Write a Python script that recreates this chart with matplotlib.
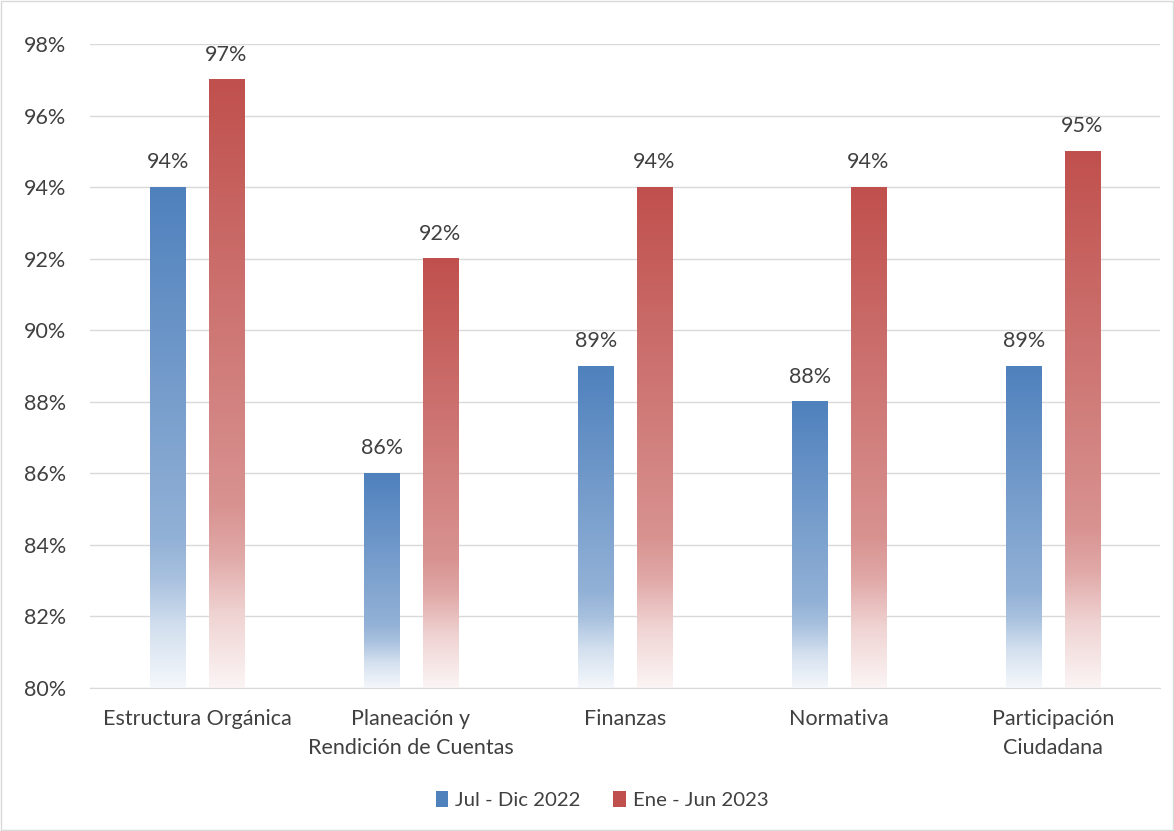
"""
Bar chart: Jul-Dic 2022 vs Ene-Jun 2023 by component, gradient-filled bars.
"""
import numpy as np
import matplotlib
matplotlib.use('Agg')
import matplotlib.pyplot as plt
from matplotlib.colors import LinearSegmentedColormap, to_rgb
from matplotlib.patches import Rectangle


###########  data  ###########

categories = ['Estructura Orgánica', 'Planeación y\nRendición de Cuentas',
              'Finanzas', 'Normativa', 'Participación\nCiudadana']
series_names = ['Jul - Dic 2022', 'Ene - Jun 2023']
jul_dic_2022 = [94, 86, 89, 88, 89]
ene_jun_2023 = [97, 92, 94, 94, 95]
yticks = [80, 82, 84, 86, 88, 90, 92, 94, 96, 98]

###########  style  ###########

COLORS = ['#4F81BD', '#C0504D']
BAR_W = 0.164
OFFSET = 0.136
TEXT_C = '#404040'
FS = 15.5
FONT = ['Lato', 'DejaVu Sans']
plt.rcParams['font.family'] = FONT

###############################


def fade_cmap(c):
    # bottom -> top: near white, quick rise, then slow to solid color
    r = np.array(to_rgb(c))
    w = np.ones(3)
    mix = lambda a: tuple(w + (r - w) * a)
    stops = [(0.0, mix(0.06)), (0.12, mix(0.25)), (0.22, mix(0.50)),
             (0.30, mix(0.62)), (1.0, mix(1.0))]
    return LinearSegmentedColormap.from_list('fade', stops)


fig = plt.figure(figsize=(11.74, 8.31), dpi=100)
ax = fig.add_axes([90/1174, 1-688/831, 1070/1174, (688-44)/831])

ax.set_xlim(-0.5, len(categories)-0.5)
ax.set_ylim(80, 98)
grad = np.linspace(0, 1, 256).reshape(-1, 1)

for s, (vals, col) in enumerate(zip([jul_dic_2022, ene_jun_2023], COLORS)):
    cmap = fade_cmap(col)
    dx = -OFFSET if s == 0 else OFFSET
    for i, v in enumerate(vals):
        x0 = i + dx - BAR_W/2
        ax.imshow(grad, cmap=cmap, origin='lower', aspect='auto',
                  extent=(x0, x0 + BAR_W, 80, v), zorder=2,
                  interpolation='bilinear')
        ax.text(i + dx, v + 0.42, f'{v}%', ha='center', va='bottom',
                fontsize=FS, color=TEXT_C, zorder=3)

ax.set_xlim(-0.5, len(categories)-0.5)
ax.set_ylim(80, 98)
ax.set_yticks(yticks)
ax.set_yticklabels([f'{t}%' for t in yticks], fontsize=FS, color=TEXT_C)
ax.set_xticks(range(len(categories)))
ax.set_xticklabels(categories, fontsize=FS, color=TEXT_C, linespacing=1.6)
ax.tick_params(axis='y', length=0, pad=17)
ax.tick_params(axis='x', length=0, pad=15)
ax.grid(True, axis='y', color='#D9D9D9', linewidth=1, zorder=0)
for sp in ['top', 'right', 'left']:
    ax.spines[sp].set_visible(False)
ax.spines['bottom'].set_color('#D9D9D9')
ax.set_axisbelow(True)

# legend
handles = [Rectangle((0, 0), 1, 1, facecolor=c) for c in COLORS]
fig.legend(handles, series_names, loc='center', bbox_to_anchor=(0.513, 1-800/831),
           ncol=2, frameon=False, fontsize=14.7, handlelength=0.6,
           handleheight=0.8, handletextpad=0.35, columnspacing=1.6,
           labelcolor=TEXT_C)

# outer border
fig.patches.append(Rectangle((0.001, 0.001), 0.998, 0.998, transform=fig.transFigure,
                             fill=False, edgecolor='#D9D9D9', linewidth=1))

plt.savefig('out.png', dpi=100)
